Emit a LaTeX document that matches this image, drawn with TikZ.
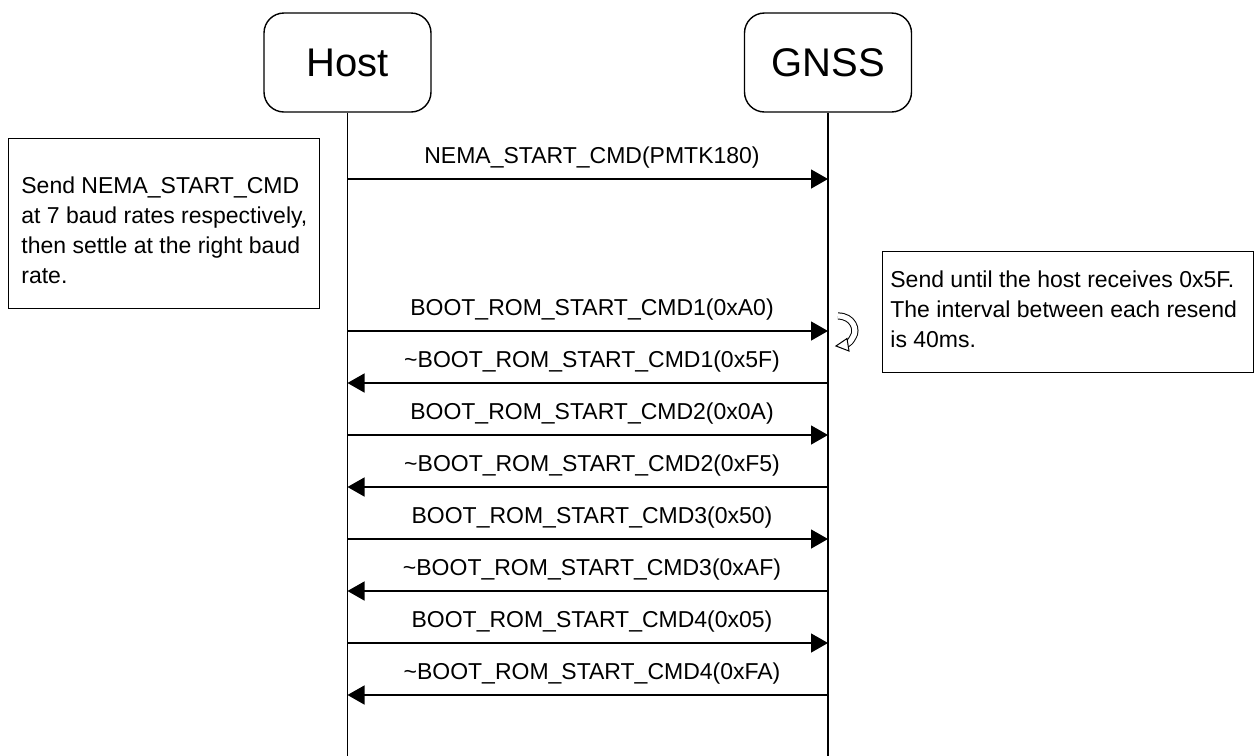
\documentclass[tikz,border=0pt]{standalone}
\usepackage{fontspec}
\setmainfont{Liberation Sans}
\usetikzlibrary{arrows.meta}
\begin{document}
\begin{tikzpicture}[x=0.5pt,y=-0.5pt,
  actor/.style={draw, line width=0.7pt, rounded corners=10pt, minimum width=83.5pt, minimum height=49.5pt, inner sep=0pt, font=\fontsize{20}{24}\selectfont},
  notebox/.style={draw, line width=0.7pt, anchor=north west, inner sep=0pt},
  notetext/.style={anchor=west, align=left, inner sep=0pt, font=\fontsize{11.5}{15}\selectfont},
  lbl/.style={inner sep=0pt, font=\fontsize{11.5}{14}\selectfont},
  life/.style={line width=0.7pt},
  msg/.style={line width=0.7pt, -{Triangle[length=8.5pt,width=9.5pt]}},
  curl/.style={line width=0.5pt, double=white, double distance=2.6pt}
]
\useasboundingbox (0,0) rectangle (1260,756);
\fill[white] (0,0) rectangle (1260,756);

% actors
\node[actor] (host) at (347.5,62.5) {Host};
\node[actor] (gnss) at (828,62.5) {GNSS};
\coordinate (hostend) at (347.5,756);
\coordinate (gnssend) at (828,756);
\draw[life] (host.south) -- (hostend);
\draw[life] (gnss.south) -- (gnssend);

% notes
\node[notebox, minimum width=155.5pt, minimum height=85pt] (leftnote) at (8,138) {};
\node[notetext] (lefttext) at (21,230) {Send NEMA\_START\_CMD\\at 7 baud rates respectively,\\then settle at the right baud\\rate.};
\node[notebox, minimum width=185.5pt, minimum height=60.5pt] (rightnote) at (882,251) {};
\node[notetext] (righttext) at (890,309) {Send until the host receives 0x5F.\\The interval between each resend\\is 40ms.};

% message end points
\foreach \i/\y in {0/179,1/331,2/383,3/435,4/487,5/539,6/591,7/643,8/695}{
  \coordinate (h\i) at (347.5,\y);
  \coordinate (g\i) at (828,\y);
}

% messages
\node[lbl] (l0) at (592,158) {NEMA\_START\_CMD(PMTK180)};
\draw[msg] (h0) -- (g0);
\node[lbl] (l1) at (592,310) {BOOT\_ROM\_START\_CMD1(0xA0)};
\draw[msg] (h1) -- (g1);
\node[lbl] (l2) at (592,362) {\char`~BOOT\_ROM\_START\_CMD1(0x5F)};
\draw[msg] (g2) -- (h2);
\node[lbl] (l3) at (592,414) {BOOT\_ROM\_START\_CMD2(0x0A)};
\draw[msg] (h3) -- (g3);
\node[lbl] (l4) at (592,466) {\char`~BOOT\_ROM\_START\_CMD2(0xF5)};
\draw[msg] (g4) -- (h4);
\node[lbl] (l5) at (592,518) {BOOT\_ROM\_START\_CMD3(0x50)};
\draw[msg] (h5) -- (g5);
\node[lbl] (l6) at (592,570) {\char`~BOOT\_ROM\_START\_CMD3(0xAF)};
\draw[msg] (g6) -- (h6);
\node[lbl] (l7) at (592,622) {BOOT\_ROM\_START\_CMD4(0x05)};
\draw[msg] (h7) -- (g7);
\node[lbl] (l8) at (592,674) {\char`~BOOT\_ROM\_START\_CMD4(0xFA)};
\draw[msg] (g8) -- (h8);

% resend curl (hollow curved arrow)
\draw[curl] (838,316) .. controls (853,316) and (858,330) .. (853,337) .. controls (851,341) and (849,343) .. (847,344);
\filldraw[line width=0.5pt, fill=white, line join=miter] (836,346) -- (847,338.5) -- (849,351) -- cycle;
\end{tikzpicture}
\end{document}
